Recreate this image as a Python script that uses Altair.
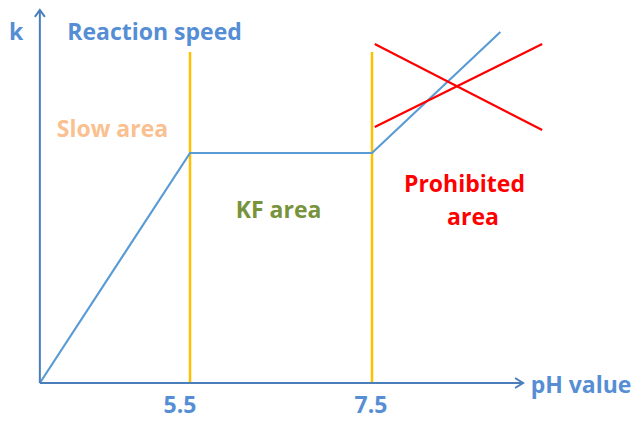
import altair as alt
import pandas as pd

# ---- data (pH on x, reaction speed k on y, arbitrary units) ----
curve_ph = [3.85, 5.5, 7.5, 8.91]
curve_k = [0.0, 10.0, 10.0, 15.26]

boundary_ph = [5.5, 7.5]
boundary_top = [14.39, 14.39]

cross_ph = [7.53, 9.37, 7.53, 9.37]
cross_k = [14.74, 11.0, 11.13, 14.74]
cross_id = ["a", "a", "b", "b"]

origin_ph, origin_k = 3.85, 0.0
x_axis_end_ph = 9.16
y_axis_end_k = 16.22

tick_ph = [5.5, 7.5]
tick_labels = ["5.5", "7.5"]

BLUE_TXT = "#558ED5"
BLUE_AX = "#4A7EBB"
BLUE_LINE = "#5B9BD5"
FONT = "Open Sans"
FS = 23

XS = alt.Scale(domain=[3.5, 10.346], nice=False, zero=False)
YS = alt.Scale(domain=[-1.609, 16.304], nice=False, zero=False)


def xe(f):
    return alt.X(f, type="quantitative", scale=XS, axis=None)


def ye(f):
    return alt.Y(f, type="quantitative", scale=YS, axis=None)


curve_df = pd.DataFrame({"ph": curve_ph, "k": curve_k, "o": range(len(curve_ph))})
bound_df = pd.DataFrame({"ph": boundary_ph, "k0": [0.0, 0.0], "k1": boundary_top})
cross_df = pd.DataFrame({"ph": cross_ph, "k": cross_k, "id": cross_id})
axes_df = pd.DataFrame({
    "ph": [origin_ph, x_axis_end_ph, origin_ph, origin_ph],
    "k": [origin_k, origin_k, origin_k, y_axis_end_k],
    "id": ["x", "x", "y", "y"],
})

axes = alt.Chart(axes_df).mark_line(color=BLUE_AX, strokeWidth=2).encode(
    x=xe("ph"), y=ye("k"), detail="id:N"
)
arrow_up = alt.Chart(pd.DataFrame({"ph": [origin_ph], "k": [y_axis_end_k]})).mark_point(
    shape="M-1,1.4L0,0L1,1.4", size=100, filled=False, color=BLUE_AX, strokeWidth=2, opacity=1
).encode(x=xe("ph"), y=ye("k"))
arrow_right = alt.Chart(pd.DataFrame({"ph": [x_axis_end_ph], "k": [origin_k]})).mark_point(
    shape="M-1.6,-1L0,0L-1.6,1", size=100, filled=False, color=BLUE_AX, strokeWidth=2, opacity=1
).encode(x=xe("ph"), y=ye("k"))

bounds = alt.Chart(bound_df).mark_rule(color="#FFC000", strokeWidth=2.5).encode(
    x=xe("ph"), y=ye("k0"), y2="k1"
)
curve = alt.Chart(curve_df).mark_line(color=BLUE_LINE, strokeWidth=2.2).encode(
    x=xe("ph"), y=ye("k"), order="o:Q"
)
cross = alt.Chart(cross_df).mark_line(color="#FF0000", strokeWidth=2.2).encode(
    x=xe("ph"), y=ye("k"), detail="id:N"
)


def label(text, ph, k, color, dx=0):
    return alt.Chart(pd.DataFrame({"ph": [ph], "k": [k], "t": [text]})).mark_text(
        font=FONT, fontWeight="bold", fontSize=FS, align="center",
        baseline="alphabetic", color=color, dx=dx
    ).encode(x=xe("ph"), y=ye("k"), text="t:N")


texts = [
    label("k", 3.588, 14.91, BLUE_TXT),
    label("Reaction speed", 5.11, 14.93, BLUE_TXT),
    label("Slow area", 4.648, 10.70, "#FAC090"),
    label("KF area", 6.473, 7.17, "#77933C"),
    label("Prohibited", 8.516, 8.30, "#FF0000"),
    label("area", 8.61, 6.87, "#FF0000"),
    label("pH value", 9.797, -0.435, BLUE_TXT),
    label(tick_labels[0], tick_ph[0], -1.30, BLUE_TXT, dx=-10),
    label(tick_labels[1], tick_ph[1], -1.30, BLUE_TXT, dx=-1),
]

chart = alt.layer(bounds, curve, cross, axes, arrow_up, arrow_right, *texts).properties(
    width=623, height=412, padding=0, autosize=alt.AutoSizeParams(type="none"),
    background="white"
).configure_view(stroke=None)

chart.save("out.html", embed_options={"renderer": "svg", "actions": False})
